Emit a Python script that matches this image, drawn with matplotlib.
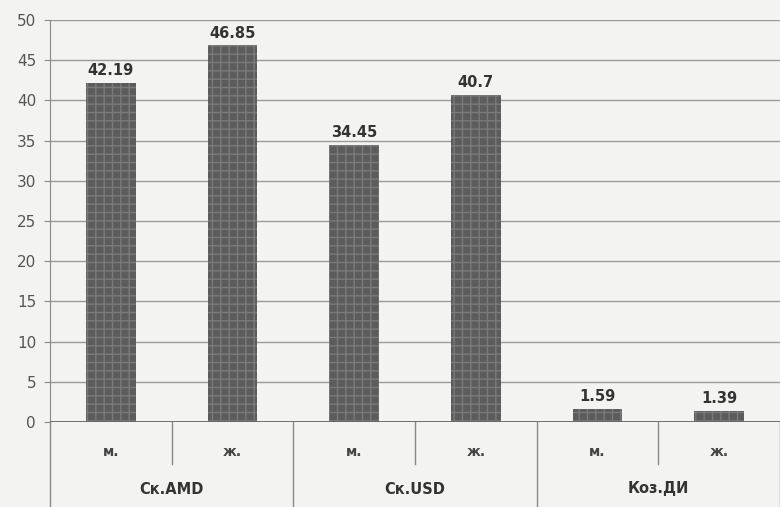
import matplotlib
matplotlib.use("Agg")
import matplotlib.pyplot as plt
import matplotlib.transforms as mtransforms

groups = ["Ск.AMD", "Ск.USD", "Коз.ДИ"]
sexes = ["м.", "ж."]
values = [42.19, 46.85, 34.45, 40.7, 1.59, 1.39]
labels = ["42.19", "46.85", "34.45", "40.7", "1.59", "1.39"]
yticks = [0, 5, 10, 15, 20, 25, 30, 35, 40, 45, 50]

plt.rcParams['font.family'] = ['DejaVu Sans']
fig = plt.figure(figsize=(7.8, 5.07), dpi=100, facecolor='#f3f3f1')
ax = fig.add_axes([50/780, 1-422/507, 730/780, (422-20)/507])
ax.set_facecolor('#f3f3f1')

x = list(range(len(values)))
bars = ax.bar(x, values, width=0.41, color='#5c5c5c', edgecolor='#7a7a7a',
              hatch='++', linewidth=0.0, zorder=3)
for xi, v, lab in zip(x, values, labels):
    ax.text(xi, v + 0.6, lab, ha='center', va='bottom', fontsize=10.5,
            fontweight='bold', color='#333333', zorder=4)

ax.set_xlim(-0.5, len(values) - 0.5)
ax.set_ylim(0, 50)
ax.set_yticks(yticks)
ax.set_yticklabels([str(t) for t in yticks], fontsize=11, color='#555555')
ax.yaxis.grid(True, color='#9a9a9a', linewidth=1.0, zorder=0)
ax.set_xticks([])
for s in ['top', 'right', 'bottom']:
    ax.spines[s].set_visible(False)
ax.spines['left'].set_color('#888888')
ax.tick_params(axis='y', length=4, color='#888888', pad=6)
ax.axhline(0, color='#666666', linewidth=1.3, zorder=4)

trans = mtransforms.blended_transform_factory(ax.transData, ax.transAxes)
h_ax = (422-20)/507
# rows below axis (in axes fraction)
def fy(py):
    return -(py - 422) / 507 / h_ax

for i, s in enumerate(sexes * len(groups)):
    ax.text(i, fy(452), s, transform=trans, ha='center', va='center',
            fontsize=10, fontweight='bold', color='#444444')
for g, name in enumerate(groups):
    ax.text(2*g + 0.5, fy(489), name, transform=trans, ha='center', va='center',
            fontsize=10.5, fontweight='bold', color='#333333')

# separators
for b in range(len(values) + 1):
    xb = b - 0.5
    if b % 2 == 0:
        ybot = fy(507)
    else:
        ybot = fy(464)
    ax.plot([xb, xb], [0, ybot], transform=trans, color='#888888',
            linewidth=1.0, clip_on=False)

fig.savefig("out.png", dpi=100, facecolor=fig.get_facecolor())
